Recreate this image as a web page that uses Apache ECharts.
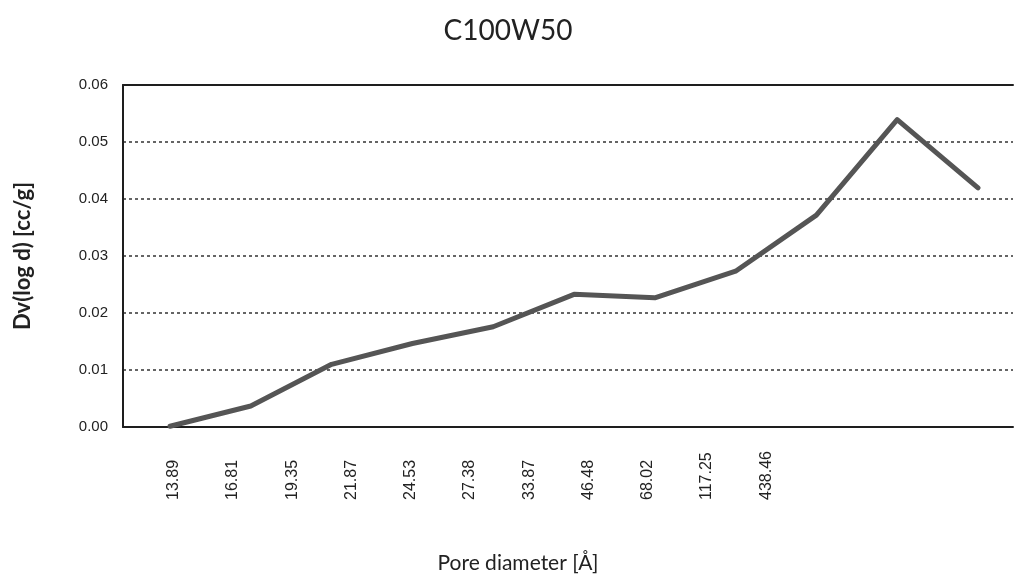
<!DOCTYPE html>
<html>
<head>
<meta charset="utf-8">
<script src="https://cdn.jsdelivr.net/npm/echarts@6/dist/echarts.min.js"></script>
<style>html,body{margin:0;padding:0;background:#fff;}#c{width:1016px;height:579px;}</style>
</head>
<body>
<div id="c"></div>
<script>
var categories = ['13.89','16.81','19.35','21.87','24.53','27.38','33.87','46.48','68.02','117.25','438.46'];
var dvLogD = [0.0010, 0.0045, 0.0117, 0.0153, 0.0182, 0.0238, 0.0232, 0.0278, 0.0375, 0.0540, 0.0422];
var yTicks = {min: 0, max: 0.06, interval: 0.01};
var titleText = 'C100W50';
var yName = 'Dv(log d) [cc/g]';
var xName = 'Pore diameter [Å]';

var chart = echarts.init(document.getElementById('c'));
var ink = '#1e1e1e';
chart.setOption({
  backgroundColor: '#fff',
  animation: false,
  title: {
    text: titleText, left: 'center', top: 12,
    textStyle: {fontFamily: 'Lato', fontSize: 28, fontWeight: 'normal', color: '#222'}
  },
  grid: [
    {left: 123, right: 3, top: 85, bottom: 147},
    {left: 170, right: 38, top: 85, bottom: 147},
    {left: 144, width: 652, top: 85, bottom: 147}
  ],
  xAxis: [
    {gridIndex: 0, type: 'category', data: categories, position: 'bottom',
     axisLine: {lineStyle: {color: ink, width: 2}}, axisTick: {show: false}, axisLabel: {show: false},
     name: xName, nameLocation: 'middle', nameGap: 126,
     nameTextStyle: {fontFamily: 'Lato', fontSize: 21, color: '#222', padding: [0, 100, 0, 0]}},
    {gridIndex: 0, type: 'category', data: categories, position: 'top',
     axisLine: {lineStyle: {color: ink, width: 2}}, axisTick: {show: false}, axisLabel: {show: false}},
    {gridIndex: 1, type: 'category', data: categories, boundaryGap: false, show: false},
    {gridIndex: 2, type: 'category', data: categories, position: 'bottom',
     axisLine: {show: false}, axisTick: {show: false},
     axisLabel: {rotate: 90, align: 'left', margin: 68, fontFamily: 'Liberation Sans', fontSize: 16, color: '#222'}}
  ],
  yAxis: [
    {gridIndex: 0, type: 'value', min: yTicks.min, max: yTicks.max, interval: yTicks.interval,
     axisLine: {show: true, lineStyle: {color: ink, width: 2}}, axisTick: {show: false},
     axisLabel: {margin: 15, fontFamily: 'Liberation Sans', fontSize: 15, color: '#222',
       formatter: function (v) { return v.toFixed(2); }},
     splitLine: {show: true, lineStyle: {color: '#333', width: 1.5, type: [3, 3]}},
     name: yName, nameLocation: 'middle', nameGap: 89, nameRotate: 90,
     nameTextStyle: {fontFamily: 'Lato', fontSize: 22, fontWeight: 'bold', color: '#222'}},
    {gridIndex: 1, type: 'value', min: yTicks.min, max: yTicks.max, show: false},
    {gridIndex: 2, type: 'value', min: yTicks.min, max: yTicks.max, show: false}
  ],
  series: [{
    type: 'line', xAxisIndex: 2, yAxisIndex: 1, data: dvLogD,
    smooth: false, symbol: 'none',
    lineStyle: {color: '#555', width: 5, join: 'round', cap: 'round'}
  }]
});
</script>
</body>
</html>
